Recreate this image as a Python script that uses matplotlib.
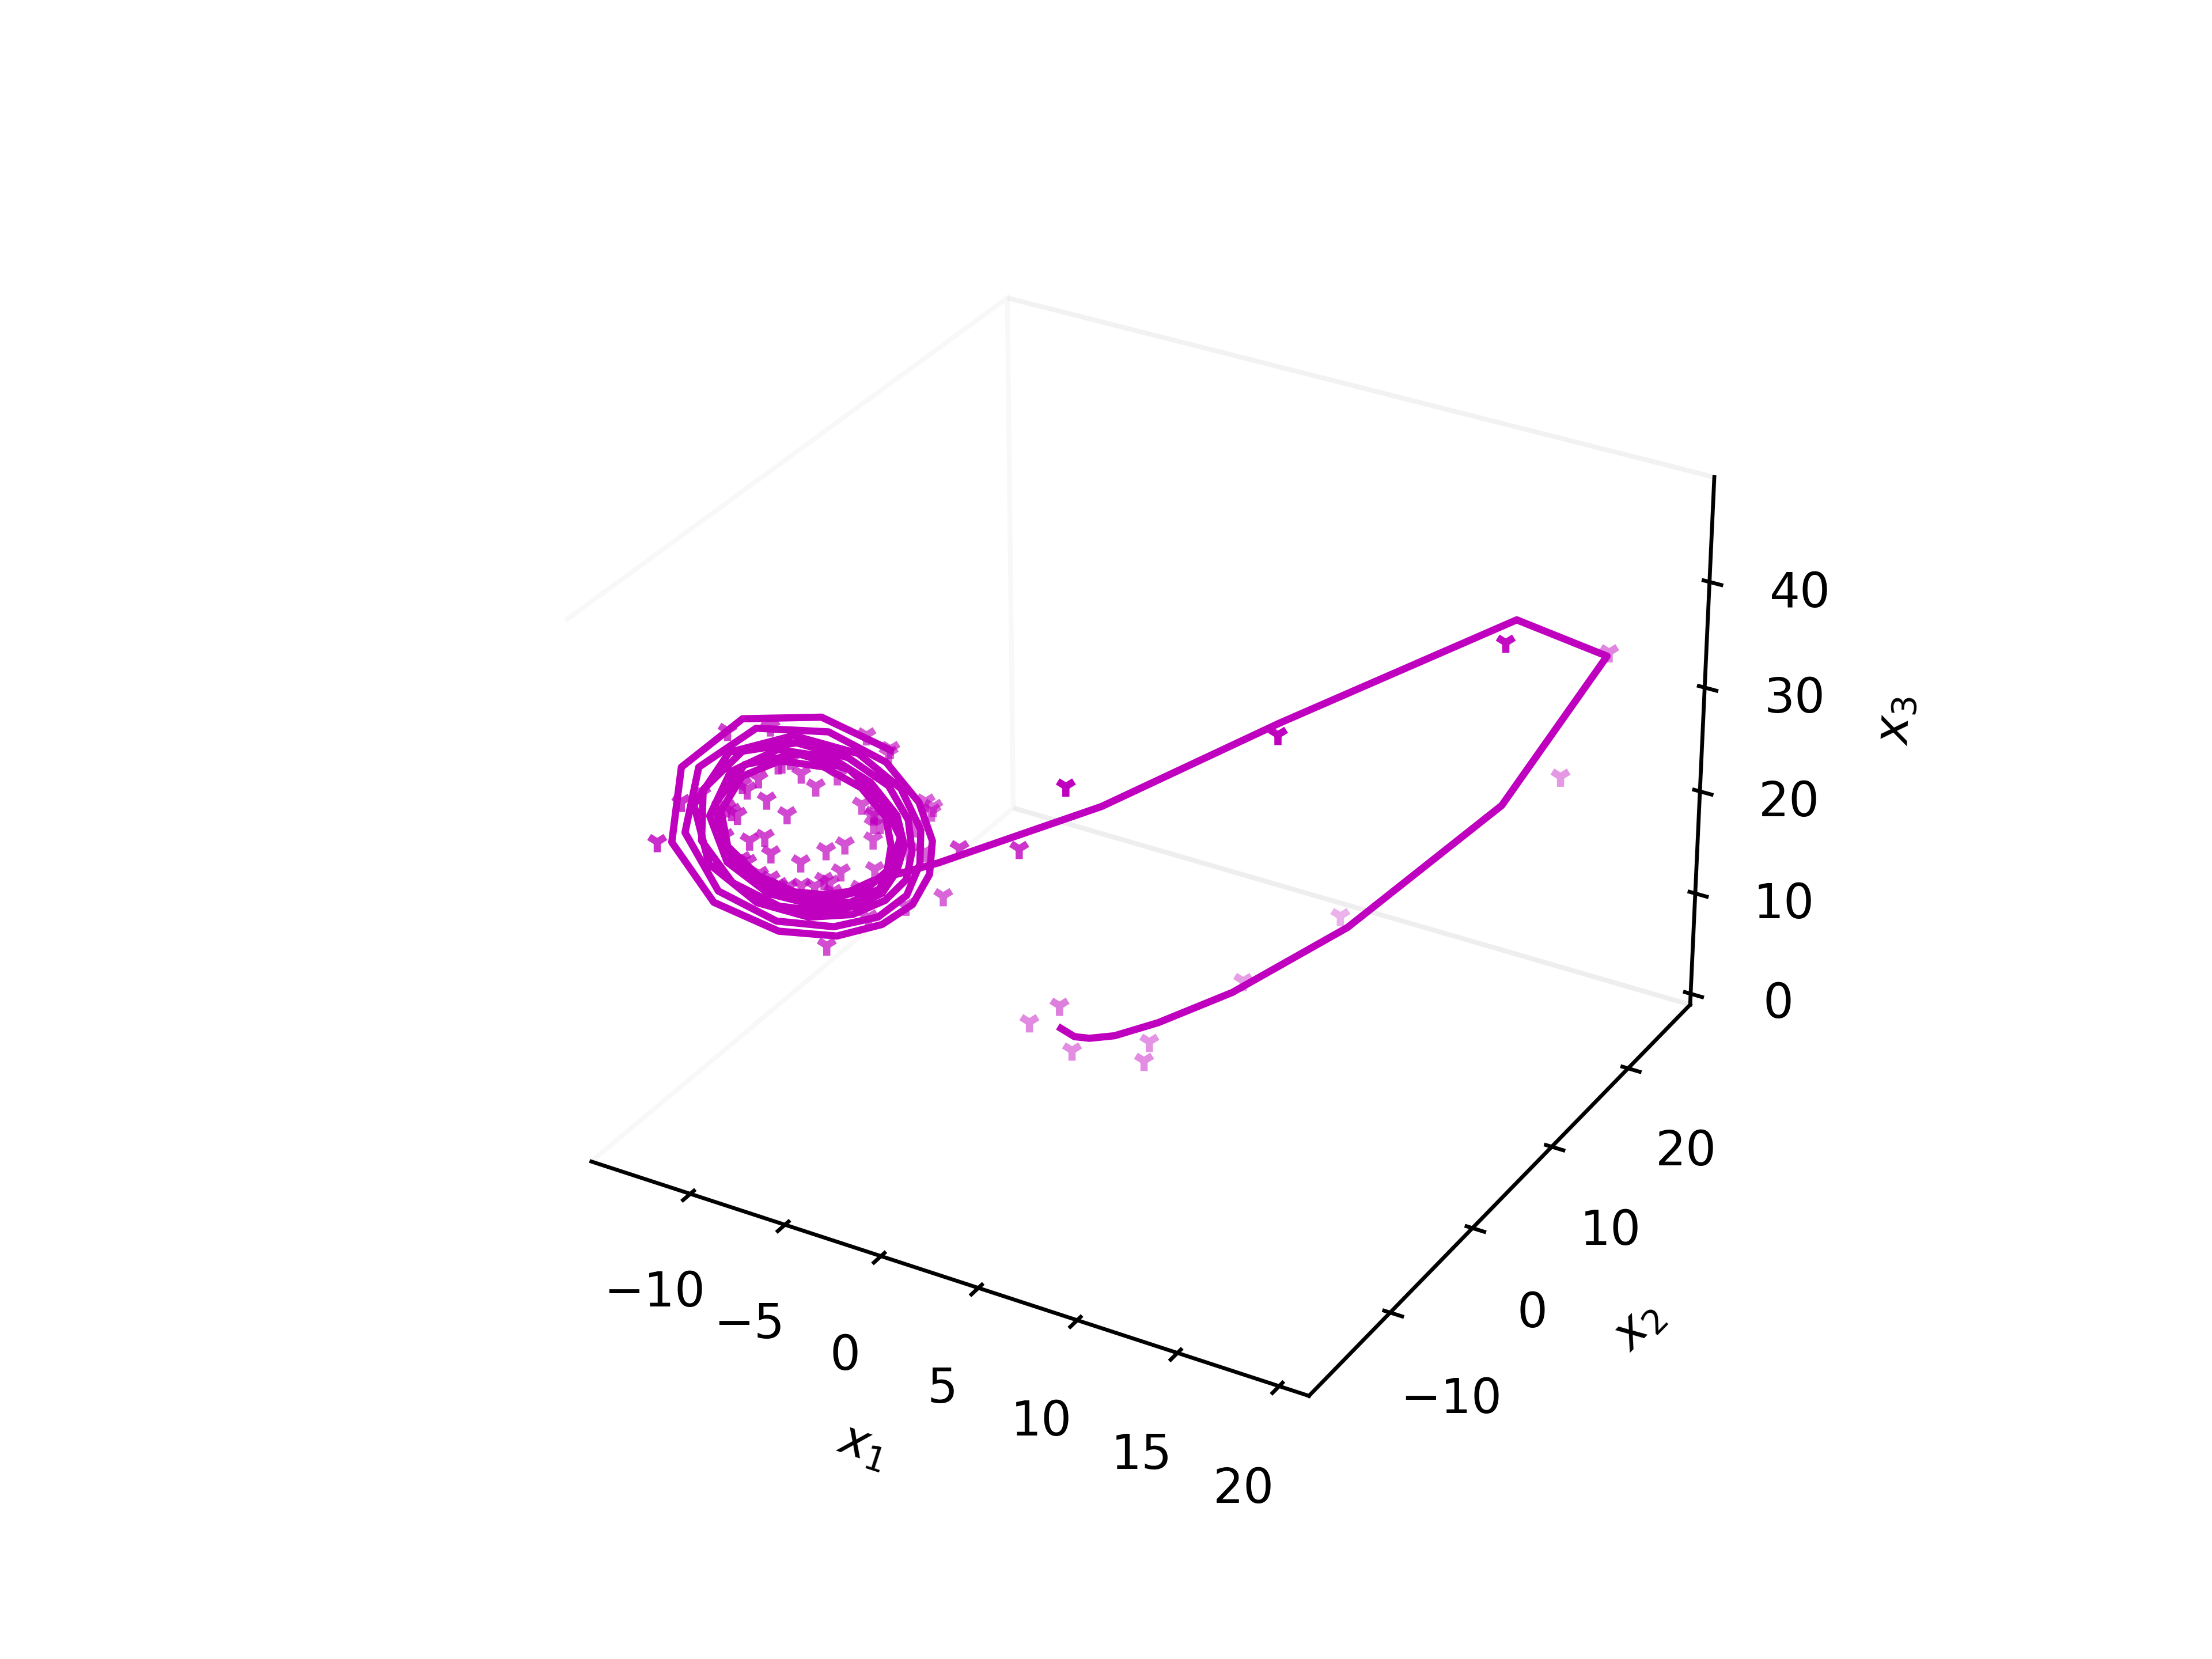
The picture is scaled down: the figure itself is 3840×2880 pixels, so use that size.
import matplotlib
matplotlib.use('Agg')
import matplotlib.pyplot as plt

# fitted trajectory
x1_line = [-1.9, -0.9, -0.1, 1.0, 2.6, 5.1, 8.6, 14.2, 19.3, 17.4, 10.1, 4.2, -1.4, -5.8, -6.4, -7.1, -8.0, -9.3, -10.6, -11.2, -11.0, -10.1, -8.7,
           -7.3, -6.2, -5.7, -5.5, -5.9, -6.7, -7.7, -9.1, -10.6, -11.5, -11.1, -9.6, -7.9, -6.5, -5.5, -5.4, -5.5, -6.2, -7.3, -8.8, -10.4, -11.5,
           -11.4, -10.3, -8.6, -7.1, -5.9, -5.3, -5.2, -5.4, -6.0, -7.0, -8.3, -10.0, -11.4, -12.0, -11.3, -9.8, -8.1, -6.5, -5.5, -5.0, -4.8, -5.2,
           -6.0, -7.3, -9.0, -10.9, -12.1, -11.7, -10.0, -7.8, -6.1, -5.0, -4.6, -4.6, -5.2, -6.4, -8.2, -10.3, -12.0, -12.4, -11.2, -9.0, -6.9, -5.4,
           -4.5, -4.2, -4.3, -5.0, -6.2, -8.0, -10.3, -12.3, -12.9, -11.7, -9.4, -6.9]
x2_line = [4.9, 4.3, 4.3, 4.8, 6.4, 9.6, 15.5, 21.0, 20.8, 13.9, 3.2, -3.7, -9.7, -7.7, -9.0, -10.2, -11.5, -12.7, -13.2, -12.6, -10.7, -8.5, -6.7,
           -5.6, -5.3, -5.8, -6.7, -8.2, -9.7, -11.3, -12.8, -13.5, -12.6, -10.2, -7.5, -5.6, -5.0, -5.2, -6.3, -7.6, -9.3, -11.0, -12.7, -13.7, -13.2,
           -11.1, -8.3, -6.1, -5.0, -4.7, -5.2, -6.3, -7.5, -9.1, -10.8, -12.6, -14.0, -14.3, -12.8, -10.0, -7.3, -5.3, -4.3, -4.3, -5.0, -6.1, -7.6,
           -9.5, -11.5, -13.5, -14.6, -13.6, -10.6, -7.2, -4.8, -3.8, -4.0, -5.0, -6.5, -8.4, -10.7, -13.1, -14.9, -14.8, -12.4, -8.7, -5.5, -3.7,
           -3.3, -3.8, -4.8, -6.5, -8.4, -10.8, -13.3, -15.4, -15.6, -13.2, -9.1, -5.4, -3.2]
x3_line = [1.0, 1.2, 1.5, 2.0, 3.0, 5.0, 9.0, 20.0, 37.0, 44.0, 38.0, 32.0, 28.0, 22.5, 22.1, 22.3, 23.0, 24.7, 27.1, 29.7, 31.7, 32.1, 31.0, 29.0,
           26.6, 24.5, 22.9, 22.0, 21.9, 22.4, 24.1, 27.0, 30.2, 32.4, 32.3, 30.4, 27.7, 25.0, 23.3, 21.8, 21.4, 21.8, 23.3, 26.1, 29.5, 32.2, 32.9,
           31.5, 29.2, 26.5, 24.3, 22.7, 21.4, 21.0, 21.2, 22.3, 24.6, 28.0, 31.4, 33.4, 33.1, 31.2, 28.7, 26.0, 23.8, 22.0, 20.9, 20.5, 21.0, 22.9,
           26.3, 30.5, 33.5, 33.6, 31.4, 28.3, 25.1, 22.8, 20.9, 19.9, 20.0, 21.3, 24.3, 28.8, 33.0, 34.7, 33.3, 30.3, 27.0, 24.2, 21.9, 20.2, 19.3,
           19.3, 20.6, 23.6, 28.3, 33.3, 35.6, 34.4, 31.1]

# noisy observations
x1_obs = [-0.2, 1.2, 1.7, 4.6, 4.3, 6.9, 9.2, 17.2, 18.4, 18.4, 11.3, 3.9, 0.9, -1.9, -12.7, -3.5, -6.4, -9.2, -10.0, -8.7, -9.3, -10.5, -10.7,
          -10.9, -10.7, -10.9, -8.2, -7.1, -6.8, -6.6, -6.5, -6.3, -7.1, -7.6, -8.2, -6.9, -7.1, -7.3, -10.0, -9.6, -9.2, -9.8, -10.0, -5.9, -8.6,
          -9.3, -8.9, -8.3, -7.9, -7.5, -6.9, -6.1, -4.5, -5.5, -10.8, -7.8, -6.9, -6.9, -5.2, -4.9, -4.9, -10.1, -9.8, -10.0, -12.0, -12.5, -12.0,
          -11.1, -10.8, -5.2, -4.6, -5.1, -6.3, -6.6]
x2_obs = [-2.4, -2.0, -1.7, 0.2, 1.5, 6.7, 13.1, 20.8, 23.5, 10.0, 0.2, -7.0, -5.7, -6.3, -16.3, -4.8, -11.5, -9.7, -10.2, -7.6, -7.9, -10.0, -10.8,
          -10.9, -11.9, -12.1, -6.3, -6.0, -5.3, -5.8, -6.0, -6.5, -7.9, -8.9, -10.4, -8.8, -9.6, -9.8, -12.1, -11.3, -11.5, -12.8, -13.0, -7.2,
          -12.0, -12.6, -12.2, -11.6, -11.0, -10.4, -9.7, -8.4, -6.8, -8.8, -8.0, -3.9, -3.2, -3.4, -3.0, -2.8, -3.0, -8.7, -8.0, -8.5, -10.1, -14.1,
          -13.0, -12.2, -13.1, -4.2, -4.4, -5.1, -5.7, -5.7]
x3_obs = [8.1, 10.2, 5.9, 5.1, 5.8, 9.3, 12.2, 24.5, 35.1, 45.0, 39.6, 36.0, 27.7, 26.7, 28.6, 20.2, 18.8, 28.4, 29.7, 29.8, 30.9, 31.3, 30.7, 31.2,
          29.1, 29.5, 30.2, 27.8, 28.0, 26.9, 26.3, 25.3, 25.4, 25.3, 24.9, 23.6, 23.0, 23.3, 27.2, 27.2, 26.0, 25.8, 26.1, 23.2, 23.7, 24.8, 24.3,
          23.4, 23.3, 23.0, 22.3, 22.2, 20.2, 20.0, 34.6, 32.5, 31.2, 30.9, 27.0, 26.5, 26.2, 31.9, 32.0, 31.9, 35.0, 30.9, 31.2, 29.8, 27.9, 25.4,
          23.5, 23.9, 26.2, 27.0]

fig = plt.figure(figsize=(6.4, 4.8), dpi=600)
ax = fig.add_subplot(projection='3d', computed_zorder=False)

ax.scatter(x1_obs, x2_obs, x3_obs, marker='1', s=18, color='m')
ax.plot(x1_line, x2_line, x3_line, color='m')

ax.set_xlim(-15.3, 21.45)
ax.set_ylim(-19.5, 28.4)
ax.set_zlim(-1.1, 49.75)
ax.set_xticks([-10, -5, 0, 5, 10, 15, 20])
ax.set_yticks([-10, 0, 10, 20])
ax.set_zticks([0, 10, 20, 30, 40])
ax.view_init(elev=30, azim=-60)
ax.grid(False)
ax.set_xlabel('$x_1$')
ax.set_ylabel('$x_2$')
ax.set_zlabel('$x_3$')
for axis in (ax.xaxis, ax.yaxis, ax.zaxis):
    axis.pane.fill = False

fig.savefig('out.png')
